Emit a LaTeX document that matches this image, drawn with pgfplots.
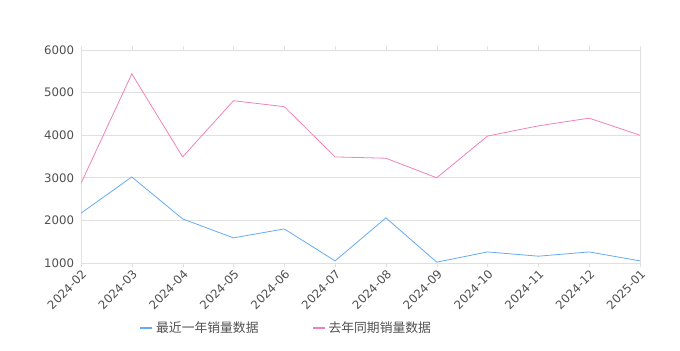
\documentclass[border=0pt]{standalone}
\usepackage{pgfplots}
\pgfplotsset{compat=1.18}
\usepackage{fontspec}
\setmainfont{DejaVu Sans}
\newfontfamily\cjk{Noto Sans CJK SC}
\definecolor{cblue}{RGB}{100,170,245}
\definecolor{cpink}{RGB}{240,130,185}
\definecolor{gridc}{RGB}{224,224,224}
\definecolor{tickc}{RGB}{80,80,80}
\begin{document}
\begin{tikzpicture}
\useasboundingbox (-60.75pt,-65.25pt) rectangle (449.25pt,197.25pt);
\begin{axis}[
  at={(0,0)}, anchor=south west,
  scale only axis, width=419.25pt, height=159.75pt,
  xmin=0, xmax=11, ymin=1000, ymax=6000,
  xtick={0,...,11},
  xticklabels={2024-02,2024-03,2024-04,2024-05,2024-06,2024-07,2024-08,2024-09,2024-10,2024-11,2024-12,2025-01},
  ytick={1000,2000,3000,4000,5000,6000},
  x tick label style={rotate=45, anchor=north east, font=\fontsize{8.8}{10}\selectfont, text=tickc, inner sep=1pt},
  y tick label style={font=\fontsize{8.8}{10}\selectfont, text=tickc, inner sep=1pt, xshift=-4pt},
  /pgf/number format/assume math mode=true,
  /pgf/number format/1000 sep={},
  ymajorgrids, grid style={gridc, line width=0.5pt},
  axis line style={gridc},
  major tick length=3pt,
  xtick style={draw=gridc},
  ytick style={draw=none},
  xtick align=outside,
  legend columns=2,
  legend style={at={(0.097,-0.305)}, anchor=west, draw=none, fill=none,
    font=\cjk\fontsize{9.6}{11}\selectfont, text=tickc,
    /tikz/every even column/.append style={column sep=38pt}},
  legend image code/.code={\draw[#1, line width=1.5pt] (0pt,0pt) -- (9pt,0pt);},
]
\addplot[cblue, line width=0.6pt] coordinates {
(0,2170) (1,3020) (2,2035) (3,1590) (4,1800) (5,1050) (6,2060) (7,1020) (8,1260) (9,1160) (10,1260) (11,1050)};
\addlegendentry{最近一年销量数据}
\addplot[cpink, line width=0.6pt] coordinates {
(0,2870) (1,5440) (2,3490) (3,4810) (4,4670) (5,3490) (6,3460) (7,3000) (8,3980) (9,4220) (10,4400) (11,4000)};
\addlegendentry{去年同期销量数据}
\end{axis}
\end{tikzpicture}
\end{document}
